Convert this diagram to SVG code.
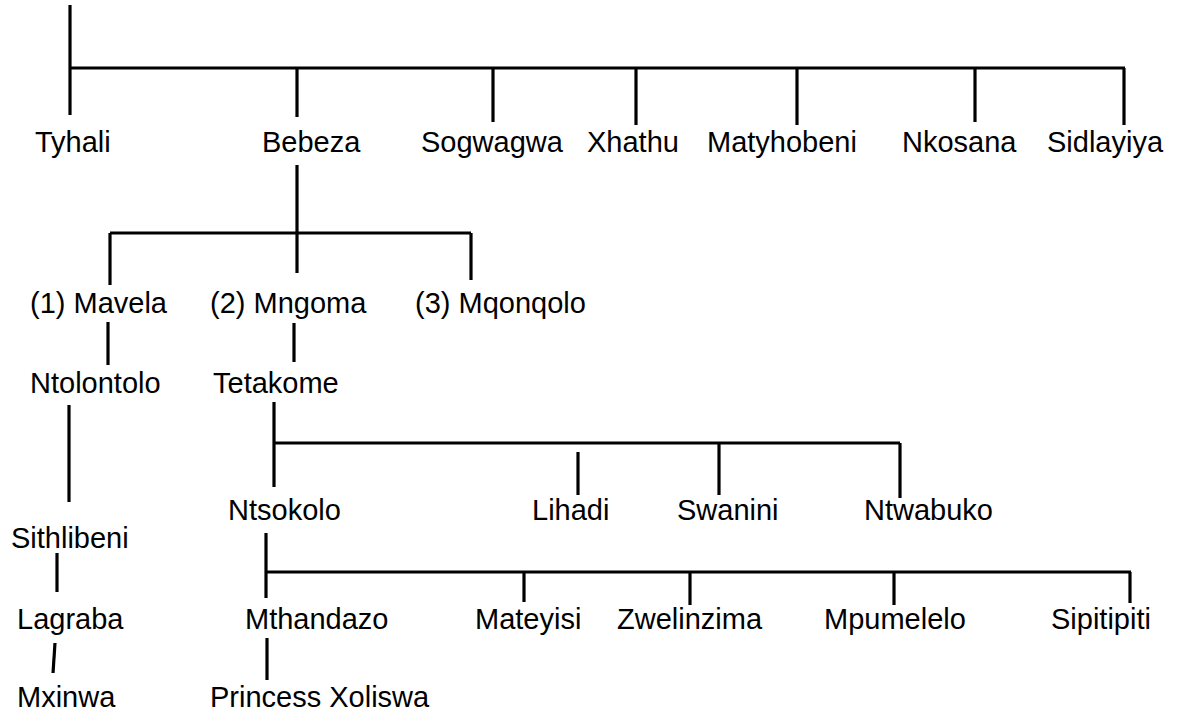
<svg xmlns="http://www.w3.org/2000/svg" width="1178" height="712" viewBox="0 0 1178 712">
  <style>
    .bg { fill: #ffffff; }
    .lbl { font-family: "Liberation Sans", Arial, sans-serif; font-size: 29px; fill: #000000; }
    .ln { fill: none; stroke: #000000; stroke-width: 3.2; stroke-linecap: butt; }
  </style>
  <rect class="bg" x="0" y="0" width="1178" height="712"/>

  <!-- lineage connectors -->
  <g id="connectors">
    <!-- first generation bar -->
    <path class="ln" d="M70 5 V115"/>
    <path class="ln" d="M70 68 H1125"/>
    <path class="ln" d="M297 68 V117"/>
    <path class="ln" d="M493 68 V122"/>
    <path class="ln" d="M636 68 V125"/>
    <path class="ln" d="M797 68 V125"/>
    <path class="ln" d="M975 68 V122"/>
    <path class="ln" d="M1124 68 V125"/>
    <!-- Bebeza's sons -->
    <path class="ln" d="M297 165 V273"/>
    <path class="ln" d="M110 233 H471"/>
    <path class="ln" d="M110 233 V285"/>
    <path class="ln" d="M471 233 V280"/>
    <!-- single descents -->
    <path class="ln" d="M108 322 V365"/>
    <path class="ln" d="M294 323 V362"/>
    <path class="ln" d="M69 405 V502"/>
    <!-- Tetakome's sons -->
    <path class="ln" d="M274 402 V487"/>
    <path class="ln" d="M274 443 H900"/>
    <path class="ln" d="M578 452 V495"/>
    <path class="ln" d="M719 443 V495"/>
    <path class="ln" d="M900 443 V498"/>
    <!-- Sithlibeni line -->
    <path class="ln" d="M57 553 V592"/>
    <path class="ln" d="M55 643 L53 673"/>
    <!-- Ntsokolo's sons -->
    <path class="ln" d="M266 533 V598"/>
    <path class="ln" d="M266 572 H1131"/>
    <path class="ln" d="M524 572 V602"/>
    <path class="ln" d="M690 572 V605"/>
    <path class="ln" d="M894 572 V605"/>
    <path class="ln" d="M1130 572 V603"/>
    <path class="ln" d="M267 638 V680"/>
  </g>

  <!-- people -->
  <g id="tyhali"><text class="lbl" x="35" y="152">Tyhali</text></g>
  <g id="bebeza"><text class="lbl" x="262" y="152">Bebeza</text></g>
  <g id="sogwagwa"><text class="lbl" x="421" y="152">Sogwagwa</text></g>
  <g id="xhathu"><text class="lbl" x="587" y="152">Xhathu</text></g>
  <g id="matyhobeni"><text class="lbl" x="707" y="152">Matyhobeni</text></g>
  <g id="nkosana"><text class="lbl" x="902" y="152">Nkosana</text></g>
  <g id="sidlayiya"><text class="lbl" x="1047" y="152">Sidlayiya</text></g>

  <g id="mavela"><text class="lbl" x="30" y="313">(1) Mavela</text></g>
  <g id="mngoma"><text class="lbl" x="210" y="313">(2) Mngoma</text></g>
  <g id="mqonqolo"><text class="lbl" x="415" y="313">(3) Mqonqolo</text></g>

  <g id="ntolontolo"><text class="lbl" x="30" y="393">Ntolontolo</text></g>
  <g id="tetakome"><text class="lbl" x="213" y="393">Tetakome</text></g>

  <g id="ntsokolo"><text class="lbl" x="228" y="520">Ntsokolo</text></g>
  <g id="lihadi"><text class="lbl" x="532" y="520">Lihadi</text></g>
  <g id="swanini"><text class="lbl" x="677" y="520">Swanini</text></g>
  <g id="ntwabuko"><text class="lbl" x="864" y="520">Ntwabuko</text></g>

  <g id="sithlibeni"><text class="lbl" x="11" y="548">Sithlibeni</text></g>

  <g id="lagraba"><text class="lbl" x="17" y="629">Lagraba</text></g>
  <g id="mthandazo"><text class="lbl" x="245" y="629">Mthandazo</text></g>
  <g id="mateyisi"><text class="lbl" x="475" y="629">Mateyisi</text></g>
  <g id="zwelinzima"><text class="lbl" x="617" y="629">Zwelinzima</text></g>
  <g id="mpumelelo"><text class="lbl" x="824" y="629">Mpumelelo</text></g>
  <g id="sipitipiti"><text class="lbl" x="1051" y="629">Sipitipiti</text></g>

  <g id="mxinwa"><text class="lbl" x="17" y="707">Mxinwa</text></g>
  <g id="princess-xoliswa"><text class="lbl" x="210" y="707">Princess Xoliswa</text></g>
</svg>
